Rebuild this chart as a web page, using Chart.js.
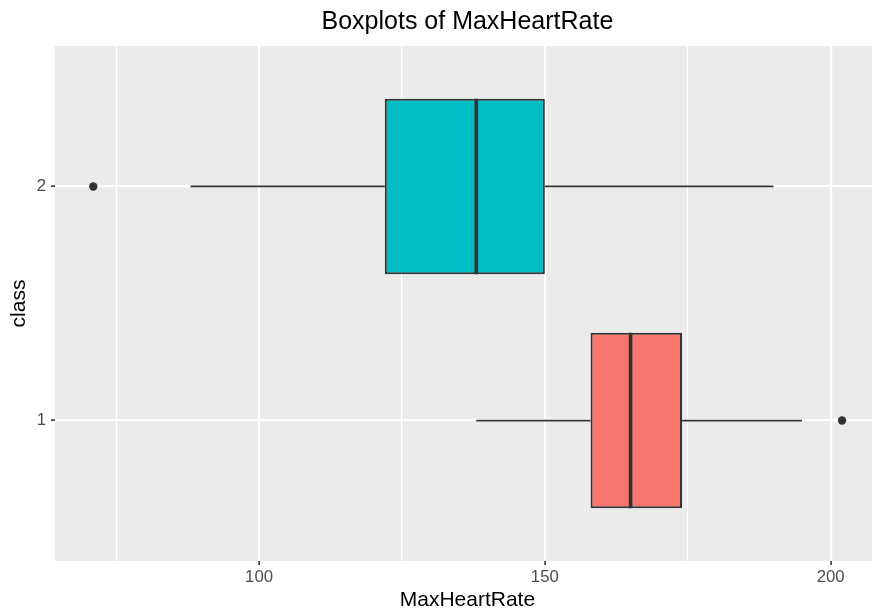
<!DOCTYPE html>
<html><head><meta charset="utf-8">
<script src="https://cdn.jsdelivr.net/npm/chart.js@4"></script>
<style>html,body{margin:0;padding:0;background:#fff;overflow:hidden;width:872px;height:611px}</style>
</head><body>
<canvas id="c" width="884" height="611"></canvas>
<script>
// ---- data ----
const classes = [1, 2];
const lowerWhisker = [138, 88];
const q1 = [158, 122];
const median = [165, 138];
const q3 = [174, 150];
const upperWhisker = [195, 190];
const outliers = [[202], [71]];
const fills = ['#F8766D', '#00BFC4'];
const xTicks = [75, 100, 125, 150, 175, 200];
const xMajor = [100, 150, 200];
const yTicks = [1, 2];
const BOX_WIDTH = 0.75;

const FONT = 'Liberation Sans, Arial, Helvetica, sans-serif';
const DARK = '#333333';

const datasets = [];
// medians (drawn on top)
classes.forEach((c, i) => {
  datasets.push({
    type: 'line', order: 0,
    data: [{x: median[i], y: c - BOX_WIDTH / 2}, {x: median[i], y: c + BOX_WIDTH / 2}],
    borderColor: DARK, borderWidth: 3.6, pointRadius: 0, fill: false, borderCapStyle: 'butt'
  });
});
// outliers
datasets.push({
  type: 'scatter', order: 0,
  data: classes.flatMap((c, i) => outliers[i].map(v => ({x: v, y: c}))),
  pointRadius: 4.2, backgroundColor: DARK, borderWidth: 0
});
// boxes
datasets.push({
  type: 'bar', order: 1, indexAxis: 'y',
  data: classes.map((c, i) => ({y: c, x: [q1[i], q3[i]]})),
  backgroundColor: fills, borderColor: DARK, borderWidth: 2, borderSkipped: false,
  categoryPercentage: 1, barPercentage: BOX_WIDTH, grouped: false
});
// whiskers
classes.forEach((c, i) => {
  datasets.push({
    type: 'line', order: 2,
    data: [{x: lowerWhisker[i], y: c}, {x: q1[i], y: c}],
    borderColor: DARK, borderWidth: 1.8, pointRadius: 0, fill: false
  });
  datasets.push({
    type: 'line', order: 2,
    data: [{x: q3[i], y: c}, {x: upperWhisker[i], y: c}],
    borderColor: DARK, borderWidth: 1.8, pointRadius: 0, fill: false
  });
});

const panelBg = {
  id: 'panelBg',
  beforeDraw(chart) {
    const {ctx, chartArea: a} = chart;
    ctx.save();
    ctx.fillStyle = '#EBEBEB';
    ctx.fillRect(a.left, a.top, a.right - a.left, a.bottom - a.top);
    ctx.restore();
  }
};

const isMajor = c => c.tick && xMajor.includes(c.tick.value);

new Chart(document.getElementById('c'), {
  type: 'bar',
  data: {datasets},
  plugins: [panelBg],
  options: {
    responsive: false, animation: false, devicePixelRatio: 1, events: [],
    layout: {padding: {left: 0, right: 1, top: 0, bottom: 0}},
    plugins: {
      legend: {display: false},
      tooltip: {enabled: false},
      title: {
        display: true, text: 'Boxplots of MaxHeartRate', color: '#000000', fullSize: false,
        font: {family: FONT, size: 25, weight: 'normal', lineHeight: 1.2},
        padding: {top: 7, bottom: 9}
      }
    },
    scales: {
      x: {
        type: 'linear', position: 'bottom', min: 64.3, max: 208.6, offset: false,
        beginAtZero: false,
        afterBuildTicks: s => { s.ticks = xTicks.map(v => ({value: v})); },
        afterFit: s => { s.height = 50; },
        ticks: {
          autoSkip: false, maxRotation: 0, padding: 2, color: '#4D4D4D',
          font: {family: FONT, size: 16.8},
          callback: v => xMajor.includes(v) ? String(v) : ''
        },
        grid: {
          offset: false,
          color: '#FFFFFF',
          lineWidth: c => isMajor(c) ? 2.2 : 1.1,
          tickLength: 4,
          tickColor: c => isMajor(c) ? DARK : 'rgba(0,0,0,0)',
          tickWidth: 1.6
        },
        border: {display: false},
        title: {
          display: true, text: 'MaxHeartRate', color: '#000000',
          font: {family: FONT, size: 21, lineHeight: 1}, padding: {top: 0, bottom: 0}
        }
      },
      y: {
        type: 'linear', position: 'left', min: 0.4, max: 2.6, offset: false,
        beginAtZero: false,
        afterBuildTicks: s => { s.ticks = yTicks.map(v => ({value: v})); },
        afterFit: s => { s.width = 55; },
        ticks: {
          padding: 5, color: '#4D4D4D', font: {family: FONT, size: 16.8},
          callback: v => String(v)
        },
        grid: {offset: false, color: '#FFFFFF', lineWidth: 2.2, tickLength: 4, tickColor: DARK, tickWidth: 1.6},
        border: {display: false},
        title: {
          display: true, text: 'class', color: '#000000',
          font: {family: FONT, size: 21, lineHeight: 1}, padding: {top: 8.5, bottom: 0}
        }
      }
    }
  }
});
</script>
</body></html>
